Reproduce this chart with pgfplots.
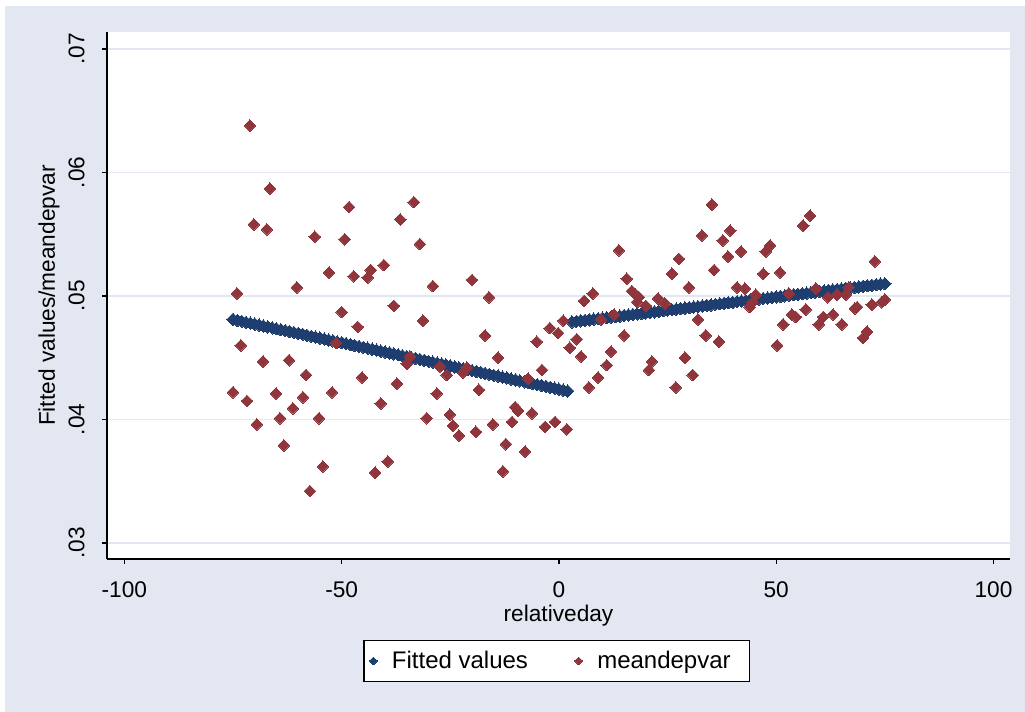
\documentclass[border=0pt]{standalone}
\usepackage{fontspec}
\setmainfont{Liberation Sans}
\usepackage{pgfplots}
\pgfplotsset{compat=1.18}
\definecolor{stblue}{RGB}{30,62,112}
\definecolor{stred}{RGB}{144,53,59}
\definecolor{bgc}{RGB}{226,231,241}
\definecolor{gridc}{RGB}{226,231,241}
\begin{document}
\begin{tikzpicture}
\path[use as bounding box] (0,0) rectangle (768.75pt,534pt);
\fill[white] (0,0) rectangle (768.75pt,534pt);
\fill[bgc] (3.75pt,0) rectangle (768.75pt,529.5pt);
\begin{axis}[
  at={(80.25pt,114.75pt)}, anchor=south west,
  scale only axis, width=677.25pt, height=395.25pt,
  xmin=-104, xmax=103.8, ymin=0.0287, ymax=0.07138,
  scaled y ticks=false, scaled x ticks=false,
  axis x line*=bottom, axis y line*=left,
  axis line style={line width=1pt, black, -},
  axis background/.style={fill=white},
  xtick={-100,-50,0,50,100}, xticklabels={-100,-50,0,50,100},
  ytick={0.03,0.04,0.05,0.06,0.07}, yticklabels={.03,.04,.05,.06,.07},
  tick align=outside, major tick length=3.75pt,
  tick style={line width=1pt, black},
  ymajorgrids, major grid style={draw=gridc, line width=1.2pt},
  every tick label/.append style={font=\fontsize{17}{20}\selectfont},
  yticklabel style={rotate=90, anchor=south},
  yticklabel shift=9.5pt, xticklabel shift=9.5pt,
  label style={font=\fontsize{17}{20}\selectfont},
  xlabel={relativeday}, ylabel={Fitted values/meandepvar},
  x label style={at={(axis description cs:0.5,-0.107)}, anchor=center},
  y label style={at={(axis description cs:-0.0642,0.5)}, anchor=center},
  legend columns=2,
  legend style={at={(0.498,-0.1935)}, anchor=center, draw=black, line width=1pt,
    fill=white, font=\fontsize{18}{21}\selectfont, inner ysep=6pt, inner xsep=4pt,
    /tikz/every even column/.append style={column sep=33pt},
    /tikz/every odd column/.append style={column sep=9pt}},
  legend image code/.code={\draw[#1, mark size=2.1pt] plot coordinates {(0.15cm,0cm)};},
  clip=false,
]
\addplot[only marks, mark=square*, mark size=3.3pt, color=stblue,
  every mark/.append style={rotate=45, line width=0pt}] coordinates {
(-75,.04810) (-74,.04802) (-73,.04795) (-72,.04787) (-71,.04780) (-70,.04772) (-69,.04765) (-68,.04757) (-67,.04750) (-66,.04742)
(-65,.04735) (-64,.04727) (-63,.04720) (-62,.04712) (-61,.04705) (-60,.04697) (-59,.04690) (-58,.04682) (-57,.04674) (-56,.04667)
(-55,.04659) (-54,.04652) (-53,.04644) (-52,.04637) (-51,.04629) (-50,.04622) (-49,.04614) (-48,.04607) (-47,.04599) (-46,.04592)
(-45,.04584) (-44,.04577) (-43,.04569) (-42,.04562) (-41,.04554) (-40,.04546) (-39,.04539) (-38,.04531) (-37,.04524) (-36,.04516)
(-35,.04509) (-34,.04501) (-33,.04494) (-32,.04486) (-31,.04479) (-30,.04471) (-29,.04464) (-28,.04456) (-27,.04449) (-26,.04441)
(-25,.04434) (-24,.04426) (-23,.04418) (-22,.04411) (-21,.04403) (-20,.04396) (-19,.04388) (-18,.04381) (-17,.04373) (-16,.04366)
(-15,.04358) (-14,.04351) (-13,.04343) (-12,.04336) (-11,.04328) (-10,.04321) (-9,.04313) (-8,.04305) (-7,.04298) (-6,.04290)
(-5,.04283) (-4,.04275) (-3,.04268) (-2,.04260) (-1,.04253) (0,.04245) (1,.04238) (2,.04230)
(3,.04790) (4,.04794) (5,.04799) (6,.04803) (7,.04807) (8,.04812) (9,.04816) (10,.04820) (11,.04824) (12,.04829)
(13,.04833) (14,.04837) (15,.04842) (16,.04846) (17,.04850) (18,.04855) (19,.04859) (20,.04863) (21,.04868) (22,.04872)
(23,.04876) (24,.04881) (25,.04885) (26,.04889) (27,.04893) (28,.04898) (29,.04902) (30,.04906) (31,.04911) (32,.04915)
(33,.04919) (34,.04924) (35,.04928) (36,.04932) (37,.04937) (38,.04941) (39,.04945) (40,.04949) (41,.04954) (42,.04958)
(43,.04962) (44,.04967) (45,.04971) (46,.04975) (47,.04980) (48,.04984) (49,.04988) (50,.04993) (51,.04997) (52,.05001)
(53,.05006) (54,.05010) (55,.05014) (56,.05018) (57,.05023) (58,.05027) (59,.05031) (60,.05036) (61,.05040) (62,.05044)
(63,.05049) (64,.05053) (65,.05057) (66,.05062) (67,.05066) (68,.05070) (69,.05074) (70,.05079) (71,.05083) (72,.05087)
(73,.05092) (74,.05096) (75,.05100)
};
\addlegendentry{Fitted values}
\addplot[only marks, mark=square*, mark size=3.1pt, color=stred,
  every mark/.append style={rotate=45, line width=0pt}] coordinates {
(-75,.0422) (-74.1,.0502) (-73.2,.0460) (-71.8,.0415) (-71.1,.0638) (-70.2,.0558) (-69.5,.0396) (-68.1,.0447) (-67.2,.0554) (-66.5,.0587)
(-65.1,.0421) (-64.2,.0401) (-63.3,.0379) (-62.1,.0448) (-61.2,.0409) (-60.3,.0507) (-58.9,.0418) (-58.2,.0436) (-57.3,.0342) (-56.2,.0548)
(-55.2,.0401) (-54.3,.0362) (-52.9,.0519) (-52.2,.0422) (-51.3,.0462) (-50,.0487) (-49.3,.0546) (-48.3,.0572) (-47.2,.0516) (-46.3,.0475)
(-45.3,.0434) (-44,.0515) (-43.3,.0521) (-42.3,.0357) (-41,.0413) (-40.3,.0525) (-39.4,.0366) (-38,.0492) (-37.3,.0429) (-36.5,.0562)
(-35,.0445) (-34.3,.0451) (-33.4,.0576) (-32,.0542) (-31.3,.0480) (-30.4,.0401) (-29,.0508) (-28.1,.0421) (-27.4,.0443) (-25.8,.0436)
(-25.1,.0404) (-24.4,.0395) (-23,.0387) (-22.1,.0438) (-21.2,.0442) (-20,.0513) (-19.1,.0390) (-18.4,.0424) (-17,.0468) (-16.1,.0499)
(-15.2,.0396) (-14,.0450) (-12.9,.0358) (-12.2,.0380) (-10.8,.0398) (-10.1,.0410) (-9.4,.0407) (-7.8,.0374) (-7.1,.0433) (-6.2,.0405)
(-5.1,.0463) (-3.9,.0440) (-3.2,.0394) (-2.1,.0474) (-0.9,.0398) (-0.2,.0470) (1,.0480) (1.8,.0392)
(2.5,.0458) (4.1,.0465) (5.1,.0451) (5.8,.0496) (6.9,.0426) (7.8,.0502) (9,.0434) (9.7,.0481) (11,.0444) (12,.0455)
(12.7,.0485) (13.8,.0537) (15,.0468) (15.6,.0514) (16.8,.0504) (17.7,.0501) (18,.0495) (18.4,.0499) (20,.0492) (20.7,.0440)
(21.4,.0447) (22.8,.0498) (24.4,.0494) (26,.0518) (26.9,.0426) (27.6,.0530) (29,.0450) (29.9,.0507) (30.8,.0436) (32,.0481)
(32.9,.0549) (33.8,.0468) (35.2,.0574) (35.7,.0521) (36.8,.0463) (37.7,.0545) (38.9,.0532) (39.4,.0553) (41,.0507) (41.9,.0536)
(42.8,.0506) (43.9,.0491) (44.6,.0495) (45.3,.0501) (47,.0518) (47.6,.0536) (48.6,.0541) (50.2,.0460) (50.9,.0519) (51.6,.0477)
(52.9,.0502) (53.6,.0485) (54.5,.0483) (56.2,.0557) (56.8,.0489) (57.8,.0565) (59.1,.0506) (59.8,.0477) (60.8,.0483) (61.9,.0499)
(63.1,.0485) (64,.0501) (65.1,.0477) (66,.0501) (66.7,.0507) (68.1,.0490) (68.6,.0491) (70,.0466) (70.9,.0471) (72,.0493)
(72.7,.0528) (74.3,.0495) (75,.0497)
};
\addlegendentry{meandepvar\hspace*{8pt}\mbox{}}
\end{axis}
\end{tikzpicture}
\end{document}
